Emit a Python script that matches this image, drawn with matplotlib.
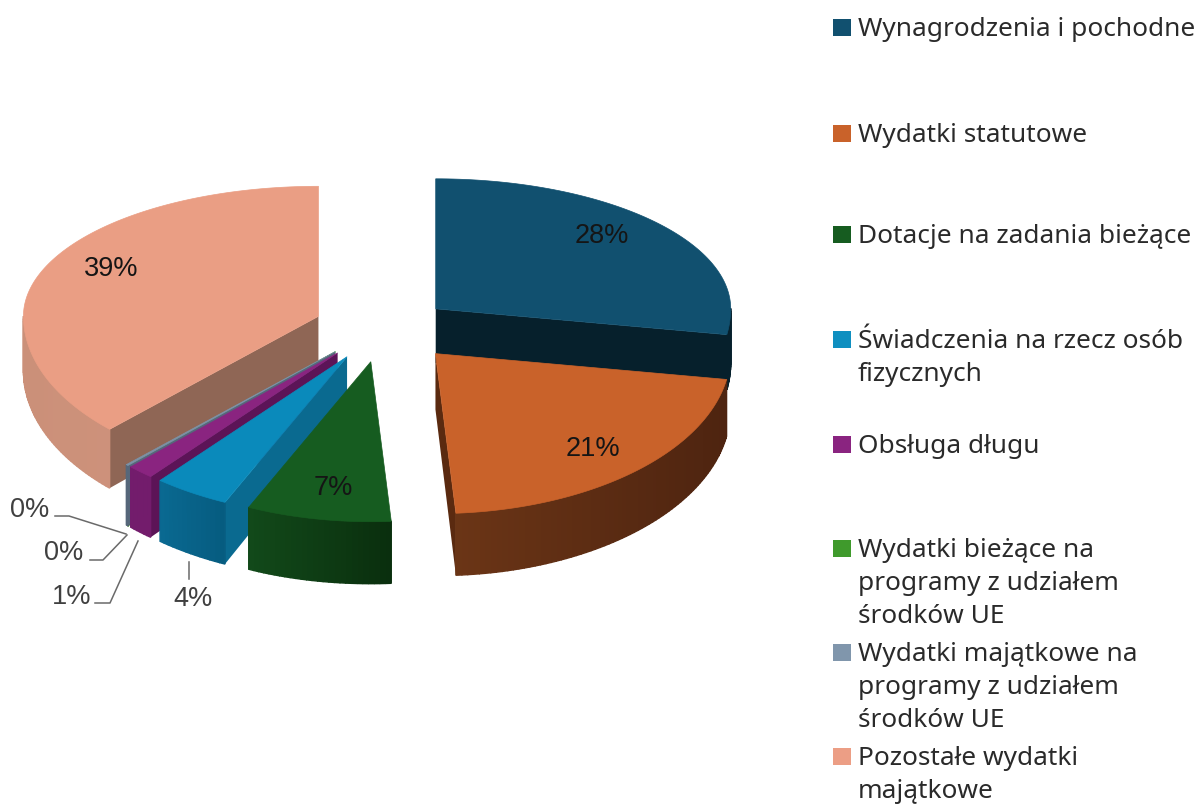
import numpy as np
import matplotlib
matplotlib.use("Agg")
import matplotlib.pyplot as plt
from matplotlib.colors import to_rgb
from matplotlib.patches import Polygon, Rectangle

# data
categories = ["Wynagrodzenia i pochodne", "Wydatki statutowe", "Dotacje na zadania bieżące",
              "Świadczenia na rzecz osób\nfizycznych", "Obsługa długu",
              "Wydatki bieżące na\nprogramy z udziałem\nśrodków UE",
              "Wydatki majątkowe na\nprogramy z udziałem\nśrodków UE",
              "Pozostałe wydatki\nmajątkowe"]
values = [28.0, 21.05, 7.0, 3.85, 1.4, 0.02, 0.12, 38.6]

# styles
top_colors = ["#11506f", "#c9622a", "#165c20", "#0a8abb", "#8a2480", "#3f9a2c", "#7c92a8", "#ea9e84"]
cut_colors = ["#06202c", "#5a2a10", "#0d3f14", "#0a6a90", "#5c1457", "#2c6a20", "#56677a", "#8f6655"]
rim_left = ["#06202c", "#6b3516", "#124a1a", "#0a6a92", "#731c6c", "#2c6a20", "#56677a", "#cb9079"]
rim_right = ["#06202c", "#4e2410", "#0a2f0e", "#065c80", "#731c6c", "#2c6a20", "#56677a", "#d2957f"]
legend_colors = ["#11506f", "#c9622a", "#165c20", "#0f8fc0", "#8a2480", "#3f9a2c", "#8096ac", "#ec9e85"]
legend_y = [27, 133, 234, 339, 444, 548, 652, 756]

CX, CY = 383, 325.5
RX, RY_BACK, RY_FRONT = 295, 130, 160
explode = [0.22, 0.25, 0.23, 0.23, 0.23, 0.23, 0.23, 0.23]
WARP = np.radians(4)  # perspective widens the front slices
DEPTH_BACK, DEPTH_FRONT = 49, 62
draw_order = [0, 7, 5, 6, 4, 3, 2, 1]


def radial(a):
    a = a + WARP * np.sin(2 * a)
    ry = RY_BACK if np.cos(a) > 0 else RY_FRONT
    return np.array([RX * np.sin(a), -ry * np.cos(a)])


def depth(y):
    t = np.clip((y - 180) / (510 - 180), 0, 1)
    return DEPTH_BACK + (DEPTH_FRONT - DEPTH_BACK) * t


def down(p):
    return np.array([p[0], p[1] + depth(p[1])])


def draw_slice(ax, i, a0, a1):
    mid = (a0 + a1) / 2
    apex = np.array([CX, CY]) + explode[i] * radial(mid)
    angles = np.linspace(a0, a1, max(4, int(np.degrees(a1 - a0)) + 2))
    rim = [apex + radial(a) for a in angles]

    # cut faces
    if np.sin(a0) < 0:
        p = apex + radial(a0)
        ax.add_patch(Polygon([apex, p, down(p), down(apex)], fc=cut_colors[i], ec="none"))
    if np.sin(a1) > 0:
        p = apex + radial(a1)
        ax.add_patch(Polygon([apex, p, down(p), down(apex)], fc=cut_colors[i], ec="none"))

    # outer side, shaded in small steps
    xs = [p[0] for p in rim]
    for k in range(len(rim) - 1):
        if np.cos(angles[k]) > 0 and np.cos(angles[k + 1]) > 0:
            continue
        t = (rim[k][0] - min(xs)) / (max(xs) - min(xs) + 1e-6)
        c = (1 - t) * np.array(to_rgb(rim_left[i])) + t * np.array(to_rgb(rim_right[i]))
        ax.add_patch(Polygon([rim[k], rim[k + 1], down(rim[k + 1]), down(rim[k])],
                             fc=c, ec=c, lw=1.0))

    ax.add_patch(Polygon([apex] + rim, fc=top_colors[i], ec=top_colors[i], lw=0.5))
    return apex


fig = plt.figure(figsize=(12.04, 8.05), dpi=100)
ax = fig.add_axes([0, 0, 1, 1])
ax.set_xlim(0, 1204)
ax.set_ylim(805, 0)
ax.axis("off")

shares = np.array(values) / sum(values)
edges = np.concatenate([[0], np.cumsum(shares)]) * 2 * np.pi
for i in draw_order:
    draw_slice(ax, i, edges[i], edges[i + 1])

# percent labels
pct = [f"{round(v)}%" for v in values]
inner_pos = {0: (602, 236), 1: (593, 449), 2: (333, 488), 7: (111, 269)}
outer_pos = {3: (193, 599), 4: (72, 597), 5: (64, 553), 6: (30, 510)}
for i, (x, y) in inner_pos.items():
    ax.text(x, y, pct[i], ha="center", va="center", fontsize=19.5, family="Liberation Sans", color="#151515")
for i, (x, y) in outer_pos.items():
    ax.text(x, y, pct[i], ha="center", va="center", fontsize=19.5, family="Liberation Sans", color="#404040")

# leader lines
leaders = [([189, 189], [562, 579]),
           ([138, 110, 95], [541, 603, 603]),
           ([127, 103, 90], [535, 560, 560]),
           ([126, 69, 55], [534, 516, 516])]
for xs, ys in leaders:
    ax.plot(xs, ys, color="#6a6a6a", lw=1.1)

# legend
for name, color, y in zip(categories, legend_colors, legend_y):
    ax.add_patch(Rectangle((833, y - 8), 18, 17, fc=color, ec="none"))
    ax.text(858, y - 10, name, ha="left", va="top", fontsize=18.9, family="Noto Sans",
            color="#2a2a2a", linespacing=1.43)

fig.savefig("out.png", dpi=100)
